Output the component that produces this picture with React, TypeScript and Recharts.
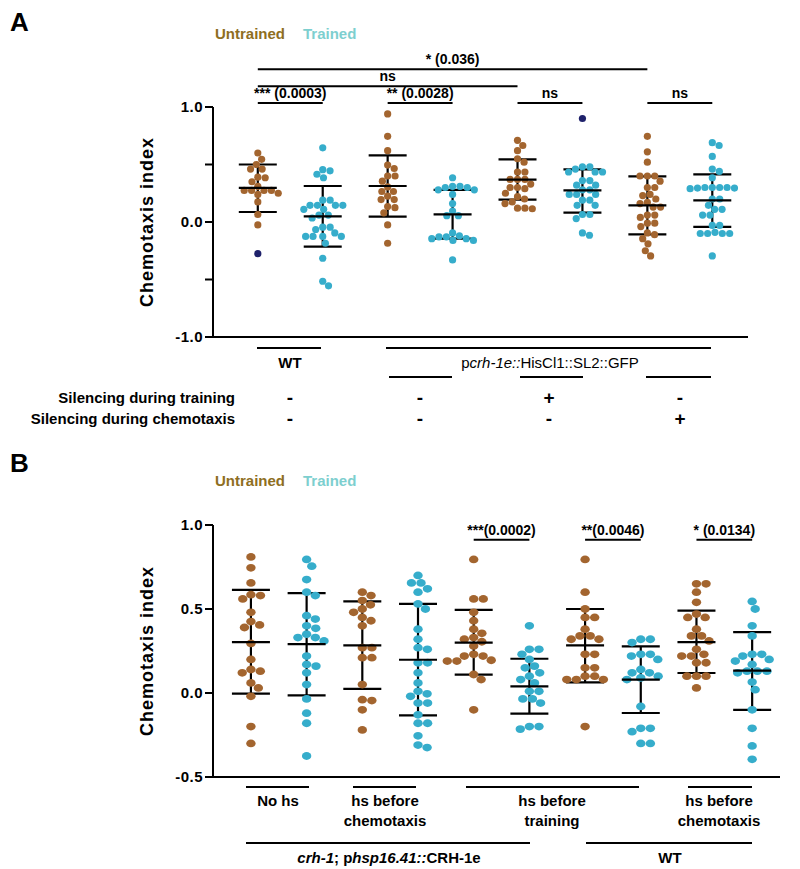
import React from "react";
import { ErrorBar, ReferenceLine, Scatter, ScatterChart, XAxis, YAxis } from "recharts";

const FONT = '"Liberation Sans", Arial, Helvetica, sans-serif';
const BROWN = "#A3652F";
const CYAN = "#36ADCB";
const NAVY = "#1F216B";

// ---- panel A: chemotaxis index per group (columns 1..8)
const wtUntrained = [0.6, 0.545, 0.5, 0.46, 0.46, 0.39, 0.385, 0.35, 0.31, 0.275, 0.275, 0.275, 0.275, 0.25, 0.24, 0.175, 0.065, -0.025];
const wtTrained = [0.645, 0.455, 0.445, 0.415, 0.385, 0.19, 0.19, 0.145, 0.145, 0.145, 0.145, 0.11, 0.11, 0.06, 0.06, 0.035, -0.045, -0.045, -0.065, -0.095, -0.125, -0.125, -0.125, -0.125, -0.185, -0.315, -0.515, -0.555];
const ctrlUntrained = [0.94, 0.745, 0.62, 0.495, 0.465, 0.4, 0.4, 0.355, 0.305, 0.265, 0.265, 0.225, 0.195, 0.195, 0.135, 0.125, 0.08, -0.025, -0.185];
const ctrlTrained = [0.385, 0.31, 0.31, 0.3, 0.3, 0.28, 0.28, 0.24, 0.16, 0.095, 0.055, 0.055, -0.095, -0.12, -0.13, -0.145, -0.16, -0.16, -0.145, -0.13, -0.33];
const silTrainUntrained = [0.71, 0.665, 0.62, 0.55, 0.52, 0.435, 0.435, 0.37, 0.37, 0.37, 0.33, 0.3, 0.3, 0.29, 0.25, 0.22, 0.2, 0.175, 0.16, 0.12, 0.115, 0.12];
const silTrainTrained = [0.48, 0.48, 0.46, 0.435, 0.435, 0.435, 0.36, 0.36, 0.32, 0.32, 0.28, 0.28, 0.24, 0.24, 0.24, 0.19, 0.19, 0.145, 0.145, 0.065, 0.065, 0.03, -0.095, -0.115];
const silChemoUntrained = [0.745, 0.61, 0.52, 0.4, 0.4, 0.4, 0.355, 0.3, 0.3, 0.24, 0.23, 0.2, 0.17, 0.16, 0.13, 0.13, 0.06, 0.06, 0.04, -0.01, -0.01, -0.04, -0.095, -0.11, -0.145, -0.19, -0.25, -0.295];
const silChemoTrained = [0.69, 0.665, 0.57, 0.46, 0.44, 0.385, 0.3, 0.3, 0.29, 0.3, 0.295, 0.295, 0.3, 0.2, 0.2, 0.145, 0.11, 0.11, 0.06, 0.06, -0.03, -0.03, -0.09, -0.1, -0.1, -0.1, -0.1, -0.295];
const groupsA = [wtUntrained, wtTrained, ctrlUntrained, ctrlTrained, silTrainUntrained, silTrainTrained, silChemoUntrained, silChemoTrained];
const meanA = [0.296, 0.049, 0.313, 0.067, 0.368, 0.275, 0.145, 0.188];
const upperA = [0.5, 0.313, 0.58, 0.28, 0.545, 0.458, 0.397, 0.415];
const lowerA = [0.087, -0.214, 0.046, -0.145, 0.195, 0.081, -0.107, -0.043];
const outlierGroupA = [1, 6];
const outlierValueA = [-0.275, 0.9];
const bracketsA = [
  { from: 1, to: 7, level: 1.328, text: "* (0.036)" },
  { from: 1, to: 5, level: 1.18, text: "ns" },
  { from: 1, to: 2, level: 1.035, text: "*** (0.0003)" },
  { from: 3, to: 4, level: 1.035, text: "** (0.0028)" },
  { from: 5, to: 6, level: 1.035, text: "ns" },
  { from: 7, to: 8, level: 1.035, text: "ns" },
];

// ---- panel B
const noHsUntrained = [0.81, 0.745, 0.655, 0.58, 0.56, 0.585, 0.48, 0.425, 0.405, 0.39, 0.295, 0.2, 0.14, 0.13, 0.12, 0.06, 0.03, -0.02, -0.2, -0.3];
const noHsTrained = [0.795, 0.755, 0.675, 0.6, 0.58, 0.46, 0.44, 0.4, 0.385, 0.35, 0.33, 0.33, 0.31, 0.22, 0.17, 0.16, 0.12, 0.05, -0.035, -0.12, -0.18, -0.375];
const hsChemoUntrained = [0.6, 0.58, 0.55, 0.525, 0.5, 0.48, 0.45, 0.43, 0.4, 0.27, 0.27, 0.21, 0.21, 0.05, -0.045, -0.04, -0.1, -0.22];
const hsChemoTrained = [0.7, 0.655, 0.655, 0.62, 0.6, 0.53, 0.5, 0.38, 0.32, 0.27, 0.26, 0.18, 0.18, 0.12, 0.06, 0.01, -0.005, -0.02, -0.06, -0.06, -0.13, -0.18, -0.18, -0.255, -0.325, -0.31];
const hsTrainUntrained = [0.795, 0.56, 0.56, 0.48, 0.43, 0.38, 0.355, 0.33, 0.32, 0.305, 0.28, 0.23, 0.22, 0.22, 0.19, 0.19, 0.195, 0.11, 0.08, -0.1];
const hsTrainTrained = [0.4, 0.26, 0.26, 0.23, 0.2, 0.16, 0.15, 0.12, 0.1, 0.08, 0.06, 0.01, 0.01, -0.035, -0.035, -0.06, -0.2, -0.215, -0.2];
const wtHsTrainUntrained = [0.795, 0.6, 0.5, 0.45, 0.45, 0.38, 0.34, 0.34, 0.32, 0.32, 0.23, 0.23, 0.15, 0.15, 0.1, 0.08, 0.08, 0.1, 0.08, -0.2];
const wtHsTrainTrained = [0.32, 0.32, 0.3, 0.23, 0.2, 0.23, 0.22, 0.12, 0.08, 0.12, 0.14, 0.1, 0.09, -0.08, -0.21, -0.23, -0.21, -0.3, -0.3];
const wtHsChemoUntrained = [0.65, 0.65, 0.6, 0.54, 0.47, 0.45, 0.45, 0.38, 0.34, 0.34, 0.31, 0.26, 0.23, 0.22, 0.22, 0.18, 0.18, 0.1, 0.1, 0.1, 0.03];
const wtHsChemoTrained = [0.545, 0.5, 0.4, 0.34, 0.23, 0.23, 0.22, 0.2, 0.19, 0.17, 0.13, 0.13, 0.13, 0.12, 0.065, 0.02, -0.1, -0.21, -0.315, -0.395];
const groupsB = [noHsUntrained, noHsTrained, hsChemoUntrained, hsChemoTrained, hsTrainUntrained, hsTrainTrained, wtHsTrainUntrained, wtHsTrainTrained, wtHsChemoUntrained, wtHsChemoTrained];
const meanB = [0.303, 0.291, 0.283, 0.198, 0.3, 0.04, 0.283, 0.08, 0.303, 0.133];
const upperB = [0.614, 0.594, 0.545, 0.53, 0.495, 0.204, 0.5, 0.277, 0.49, 0.362];
const lowerB = [-0.004, -0.014, 0.024, -0.133, 0.109, -0.123, 0.063, -0.119, 0.119, -0.1];
const bracketsB = [
  { from: 5, to: 6, level: 0.912, text: "***(0.0002)" },
  { from: 7, to: 8, level: 0.912, text: "**(0.0046)" },
  { from: 9, to: 10, level: 0.912, text: "* (0.0134)" },
];

const AXIS_X = 213;

// simple beeswarm: offsets in pixels so dots don't overlap, converted back to x units
const swarm = (vals: number[], center: number, xPx: number, yPx: number, d: number) => {
  const placed: { px: number; py: number }[] = [];
  const sorted = [...vals].sort((a, b) => b - a);
  return sorted.map((v) => {
    const py = v * yPx;
    const near = placed.filter((p) => Math.abs(p.py - py) < d);
    const cands = [0];
    near.forEach((p) => {
      const dx = Math.sqrt(d * d - (p.py - py) ** 2);
      cands.push(p.px + dx, p.px - dx);
    });
    cands.sort((a, b) => Math.abs(a) - Math.abs(b));
    const px = cands.find((c) => near.every((p) => (p.px - c) ** 2 + (p.py - py) ** 2 >= d * d - 0.01)) ?? 0;
    placed.push({ px, py });
    return { x: center + px / xPx, y: v };
  });
};

const T = ({ x, y, children, anchor = "middle", size = 15, bold = true, color = "#000" }: any) => (
  <div
    style={{
      position: "absolute",
      left: x,
      top: y,
      transform: `translate(${anchor === "middle" ? "-50%" : anchor === "end" ? "-100%" : "0"}, -50%)`,
      whiteSpace: "nowrap",
      fontFamily: FONT,
      fontSize: size,
      fontWeight: bold ? 700 : 400,
      color,
      lineHeight: 1,
    }}
  >
    {children}
  </div>
);

const HLine = ({ x1, x2, y }: any) => (
  <div style={{ position: "absolute", left: x1, top: y - 1, width: x2 - x1, height: 2, background: "#000" }} />
);

const Sign = ({ x, y, children }: any) => <T x={x} y={y} size={19}>{children}</T>;

const YTitle = ({ y }: any) => (
  <div
    style={{
      position: "absolute",
      left: 147,
      top: y,
      transform: "translate(-50%, -50%) rotate(-90deg)",
      whiteSpace: "nowrap",
      fontFamily: FONT,
      fontSize: 18,
      fontWeight: 700,
      letterSpacing: 1,
      lineHeight: 1,
    }}
  >
    Chemotaxis index
  </div>
);

const DotPanel = ({ top, height, plotTop, plotBottom, plotRight, xDomain, yDomain, ticks, fmt, groups, means, uppers, lowers, outliers, brackets, ellipse }: any) => {
  const xPx = (plotRight - AXIS_X) / (xDomain[1] - xDomain[0]);
  const yPx = (plotBottom - plotTop) / (yDomain[1] - yDomain[0]);
  const rx = ellipse ? 4.7 : 3.6;
  const ry = ellipse ? 3.9 : 3.6;
  const d = rx * 2 + 0.2;
  const yStretch = rx / ry;
  const brownPts: any[] = [];
  const cyanPts: any[] = [];
  groups.forEach((g: number[], i: number) => {
    const pts = swarm(g, i + 1, xPx, yPx * yStretch, d);
    (i % 2 === 0 ? brownPts : cyanPts).push(...pts);
  });
  const summary = means.map((m: number, i: number) => ({ x: i + 1, y: m, err: [m - lowers[i], uppers[i] - m] }));
  const dot = (fill: string) => (p: any) => <ellipse cx={p.cx} cy={p.cy} rx={rx} ry={ry} fill={fill} />;
  const textStyle = { fill: "#000", fontSize: 14, fontWeight: "bold", fontFamily: FONT };

  return (
    <div style={{ position: "absolute", left: 0, top }}>
      <ScatterChart
        width={800}
        height={height}
        margin={{ top: plotTop - top, right: 800 - plotRight, bottom: top + height - plotBottom - 2, left: AXIS_X - 60 }}
      >
        <XAxis type="number" dataKey="x" domain={xDomain} allowDataOverflow tick={false} tickLine={false} height={2} axisLine={{ stroke: "#000", strokeWidth: 2 }} />
        <YAxis
          type="number"
          dataKey="y"
          domain={yDomain}
          allowDataOverflow
          ticks={ticks}
          interval={0}
          width={60}
          tickSize={8}
          tickFormatter={fmt}
          tick={{ fill: "#000", fontSize: 15, fontWeight: "bold", fontFamily: FONT, letterSpacing: 0.5 }}
          tickLine={{ stroke: "#000", strokeWidth: 2 }}
          axisLine={{ stroke: "#000", strokeWidth: 2 }}
        />
        <Scatter data={brownPts} fill={BROWN} shape={dot(BROWN)} isAnimationActive={false} />
        <Scatter data={cyanPts} fill={CYAN} shape={dot(CYAN)} isAnimationActive={false} />
        {outliers && <Scatter data={outliers} fill={NAVY} shape={dot(NAVY)} isAnimationActive={false} />}
        <Scatter
          data={summary}
          fill="#000"
          isAnimationActive={false}
          shape={(p: any) => <line x1={p.cx - 19} x2={p.cx + 19} y1={p.cy} y2={p.cy} stroke="#000" strokeWidth={2.2} />}
        >
          <ErrorBar dataKey="err" direction="y" width={19} stroke="#000" strokeWidth={2.2} isAnimationActive={false} />
        </Scatter>
        {brackets.map((b: any, i: number) => (
          <ReferenceLine
            key={i}
            segment={[{ x: b.from, y: b.level }, { x: b.to, y: b.level }]}
            stroke="#000"
            strokeWidth={2}
            ifOverflow="visible"
            label={{ value: b.text, position: "top", offset: 5, ...textStyle }}
          />
        ))}
      </ScatterChart>
    </div>
  );
};

export default function App() {
  const outliersA = outlierGroupA.map((g, i) => ({ x: g, y: outlierValueA[i] }));
  return (
    <div style={{ position: "absolute", left: 0, top: 0, width: 800, height: 869, background: "#fff", overflow: "hidden", fontFamily: FONT }}>
      {/* Panel A */}
      <T x={10} y={22} anchor="start" size={26}>A</T>
      <T x={215} y={33} anchor="start" color="#8E6E22">Untrained</T>
      <T x={303} y={33} anchor="start" color="#7DCFCF">Trained</T>
      <YTitle y={222} />
      <DotPanel
        top={0}
        height={440}
        plotTop={107}
        plotBottom={337}
        plotRight={748}
        xDomain={[0.31, 8.55]}
        yDomain={[-1, 1]}
        ticks={[-1, -0.5, 0, 0.5, 1]}
        fmt={(v: number) => (Math.abs(v) === 0.5 ? "" : v.toFixed(1))}
        groups={groupsA}
        means={meanA}
        uppers={upperA}
        lowers={lowerA}
        outliers={outliersA}
        brackets={bracketsA}
        ellipse={false}
      />
      <HLine x1={257} x2={321} y={348} />
      <T x={290} y={362}>WT</T>
      <HLine x1={386} x2={711} y={348} />
      <T x={550} y={362} bold={false}>
        p<i>crh-1e::</i>HisCl1::SL2::GFP
      </T>
      <HLine x1={389} x2={452} y={377} />
      <HLine x1={520} x2={583} y={377} />
      <HLine x1={646} x2={711} y={377} />
      <T x={235} y={397} anchor="end">Silencing during training</T>
      <T x={235} y={418} anchor="end">Silencing during chemotaxis</T>
      <Sign x={290} y={397}>-</Sign>
      <Sign x={420} y={397}>-</Sign>
      <Sign x={549} y={397}>+</Sign>
      <Sign x={680} y={397}>-</Sign>
      <Sign x={290} y={418}>-</Sign>
      <Sign x={420} y={418}>-</Sign>
      <Sign x={549} y={418}>-</Sign>
      <Sign x={680} y={418}>+</Sign>

      {/* Panel B */}
      <T x={10} y={463} anchor="start" size={26}>B</T>
      <T x={215} y={480} anchor="start" color="#8E6E22">Untrained</T>
      <T x={303} y={480} anchor="start" color="#7DCFCF">Trained</T>
      <YTitle y={651} />
      <DotPanel
        top={440}
        height={429}
        plotTop={525}
        plotBottom={777}
        plotRight={780}
        xDomain={[0.319, 10.5]}
        yDomain={[-0.5, 1]}
        ticks={[-0.5, 0, 0.5, 1]}
        fmt={(v: number) => v.toFixed(1)}
        groups={groupsB}
        means={meanB}
        uppers={upperB}
        lowers={lowerB}
        outliers={null}
        brackets={bracketsB}
        ellipse={true}
      />
      <HLine x1={246} x2={309} y={787} />
      <HLine x1={353} x2={416} y={787} />
      <HLine x1={466} x2={639} y={787} />
      <HLine x1={688} x2={752} y={787} />
      <T x={278} y={800}>No hs</T>
      <T x={385} y={800}>hs before</T>
      <T x={385} y={820}>chemotaxis</T>
      <T x={552} y={800}>hs before</T>
      <T x={552} y={820}>training</T>
      <T x={719} y={800}>hs before</T>
      <T x={719} y={820}>chemotaxis</T>
      <HLine x1={246} x2={530} y={843} />
      <HLine x1={586} x2={752} y={843} />
      <T x={389} y={857}>
        <i>crh-1</i>; p<i>hsp16.41::</i>CRH-1e
      </T>
      <T x={670} y={857}>WT</T>
    </div>
  );
}
